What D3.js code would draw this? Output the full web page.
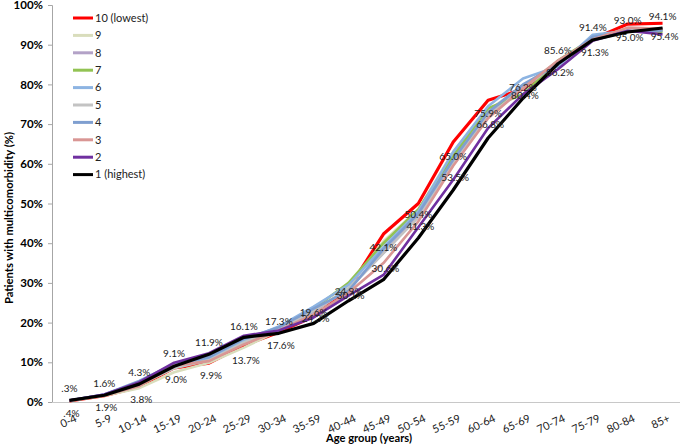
<!DOCTYPE html>
<html>
<head>
<meta charset="utf-8">
<script src="https://cdn.jsdelivr.net/npm/d3@7"></script>
<style>
  html, body { margin: 0; padding: 0; background: #fff; }
  svg { display: block; font-family: Lato, "Open Sans", sans-serif; }
</style>
</head>
<body>
<svg id="chart" width="685" height="445"></svg>
<script>
// ---- Data ----
const categories = ["0-4","5-9","10-14","15-19","20-24","25-29","30-34","35-59","40-44","45-49","50-54","55-59","60-64","65-69","70-74","75-79","80-84","85+"];

const seriesNames = ["10 (lowest)","9","8","7","6","5","4","3","2","1 (highest)"];
const seriesColors = ["#FF0000","#D9DDBC","#B3A2C7","#92C353","#8DB4E2","#C3C3C3","#7F9FD0","#D99694","#7030A0","#000000"];

const s10 = [0.3, 1.6, 3.8, 8.6, 9.8, 14.3, 17.6, 21.5, 28.5, 42.3, 50.0, 65.5, 76.0, 78.8, 85.6, 91.4, 95.2, 95.4];
const s9  = [0.3, 1.6, 3.5, 7.5, 9.9, 13.7, 18.0, 22.5, 29.0, 40.5, 48.5, 63.0, 73.5, 79.5, 85.8, 91.5, 94.0, 94.0];
const s8  = [0.4, 1.8, 4.5, 9.3, 10.5, 15.0, 18.3, 22.8, 28.5, 37.5, 47.0, 61.5, 72.5, 79.5, 85.5, 91.5, 94.0, 94.0];
const s7  = [0.3, 1.7, 4.2, 8.8, 10.8, 15.0, 18.5, 23.5, 30.0, 40.0, 48.5, 62.0, 74.0, 77.5, 86.0, 91.6, 93.8, 93.3];
const s6  = [0.4, 1.9, 5.0, 9.5, 11.0, 15.5, 19.0, 24.0, 29.5, 39.0, 48.0, 63.0, 74.5, 81.5, 84.5, 92.5, 93.5, 93.8];
const s5  = [0.3, 1.7, 4.3, 8.5, 10.5, 15.0, 18.5, 23.0, 28.5, 37.5, 46.5, 60.5, 72.0, 79.0, 85.5, 91.3, 94.0, 93.8];
const s4  = [0.4, 1.9, 5.3, 9.6, 11.3, 16.0, 18.8, 23.5, 28.0, 38.5, 47.5, 61.0, 73.0, 80.0, 85.0, 92.0, 93.3, 93.6];
const s3  = [0.3, 1.7, 4.0, 9.2, 10.3, 14.5, 18.0, 22.0, 27.5, 35.0, 45.5, 59.5, 71.5, 79.0, 86.0, 91.3, 94.3, 94.0];
const s2  = [0.4, 1.9, 5.0, 9.9, 12.3, 16.7, 18.0, 21.3, 26.8, 32.0, 44.0, 56.0, 69.0, 77.5, 83.8, 91.0, 93.5, 92.6];
const s1  = [0.4, 1.7, 4.5, 9.0, 12.0, 16.3, 17.3, 19.8, 25.5, 30.8, 41.3, 53.4, 66.5, 76.5, 85.2, 91.2, 93.2, 94.2];
const seriesValues = [s10, s9, s8, s7, s6, s5, s4, s3, s2, s1];

const upperLabels = [".3%","1.6%","4.3%","9.1%","11.9%","16.1%","17.3%","19.6%","24.9%","42.1%","50.4%","65.0%","75.9%","76.2%","85.6%","91.4%","93.0%","94.1%"];
const lowerLabels = [".4%","1.9%","3.8%","9.0%","9.9%","13.7%","17.6%","24.3%","30.1%","30.6%","41.3%","53.5%","66.8%","80.4%","86.2%","91.3%","95.0%","95.4%"];

const yTicks = [0, 10, 20, 30, 40, 50, 60, 70, 80, 90, 100];

// ---- Layout ----
const svg = d3.select("#chart");
const margin = { left: 52, right: 5, top: 5, bottom: 43 };
const W = 685, H = 445;

const x = d3.scalePoint().domain(categories).range([margin.left, W - margin.right]).padding(0.5);
const y = d3.scaleLinear().domain([0, 100]).range([H - margin.bottom, margin.top]);

// Y axis
const yAxis = d3.axisLeft(y).tickValues(yTicks).tickFormat(d => d + "%").tickSize(4).tickPadding(5);
const gy = svg.append("g").attr("transform", `translate(${margin.left},0)`).call(yAxis);
gy.select(".domain").attr("stroke", "#A6A6A6");
gy.selectAll(".tick line").attr("stroke", "#A6A6A6");
gy.selectAll(".tick text").attr("font-size", 11.5).attr("font-weight", "bold").attr("fill", "#000")
  .attr("font-family", "Lato, sans-serif");

// X axis
const xAxis = d3.axisBottom(x).tickSize(0).tickSizeOuter(0);
const gx = svg.append("g").attr("transform", `translate(0,${y(0)})`).call(xAxis);
gx.select(".domain").attr("stroke", "#C8C8C8").attr("d", `M${margin.left},0.5H${W - margin.right}`);
gx.selectAll(".tick text")
  .attr("font-size", 11).attr("fill", "#222").attr("font-family", "Lato, sans-serif")
  .attr("text-anchor", "end")
  .attr("dy", null).attr("y", null)
  .attr("transform", "translate(4,11) rotate(-25)")
  .attr("dominant-baseline", "hanging");

// Axis titles
svg.append("text")
  .attr("x", 369).attr("y", 442)
  .attr("text-anchor", "middle").attr("font-size", 12).attr("font-weight", "bold").attr("fill", "#000")
  .attr("textLength", 86).attr("lengthAdjust", "spacingAndGlyphs")
  .text("Age group (years)");
svg.append("text")
  .attr("transform", `translate(13,218) rotate(-90)`)
  .attr("text-anchor", "middle").attr("font-size", 11.5).attr("font-weight", "bold").attr("fill", "#000")
  .attr("textLength", 172).attr("lengthAdjust", "spacingAndGlyphs")
  .text("Patients with multicomorbidity (%)");

// Lines
const line = d3.line().x((d, i) => x(categories[i])).y(d => y(d));
svg.append("g").selectAll("path").data(seriesValues).join("path")
  .attr("d", d => line(d))
  .attr("fill", "none")
  .attr("stroke", (d, i) => seriesColors[i])
  .attr("stroke-width", (d, i) => (i === 0 || i === 9) ? 3.2 : 2.6)
  .attr("stroke-linejoin", "round");

// Data labels
const swapped = i => i >= 9 && i <= 12;
const lbl = svg.append("g").attr("font-size", 10).attr("fill", "#222").attr("text-anchor", "middle");
lbl.selectAll("text.up").data(upperLabels).join("text")
  .attr("x", (d, i) => x(categories[i]))
  .attr("y", (d, i) => y(parseFloat(d)) + (swapped(i) ? 13 : -12))
  .attr("dy", "0.35em")
  .text(d => d);
lbl.selectAll("text.lo").data(lowerLabels).join("text")
  .attr("x", (d, i) => x(categories[i]) + 2)
  .attr("y", (d, i) => y(parseFloat(d)) + (swapped(i) ? -12 : 13))
  .attr("dy", "0.35em")
  .text(d => d);

// Legend
const leg = svg.append("g").attr("transform", "translate(73,18)");
const items = leg.selectAll("g").data(seriesNames).join("g")
  .attr("transform", (d, i) => `translate(0,${i * 17.4})`);
items.append("line").attr("x1", 0).attr("x2", 20).attr("y1", 0).attr("y2", 0)
  .attr("stroke", (d, i) => seriesColors[i]).attr("stroke-width", 3);
items.append("text").attr("x", 22).attr("y", 0).attr("dy", "0.35em")
  .attr("font-size", 11).attr("fill", "#222").text(d => d);
</script>
</body>
</html>
